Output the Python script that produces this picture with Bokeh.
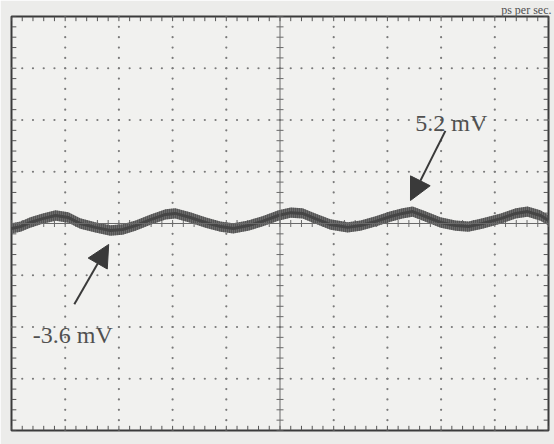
import numpy as np
from bokeh.plotting import figure
from bokeh.models import Span, Label, Arrow, NormalHead, ColumnDataSource, Title
from bokeh.embed import file_html
from bokeh.resources import INLINE

# --- data (time in divisions, voltage in mV; 20 mV/div) ---
t_div = [0.00, 0.17, 0.35, 0.58, 0.82, 1.06, 1.28, 1.56, 1.84, 2.07, 2.31, 2.59, 2.87,
         3.05, 3.33, 3.61, 3.89, 4.13, 4.41, 4.67, 4.97, 5.20, 5.42, 5.66, 5.94, 6.26,
         6.50, 6.78, 7.06, 7.28, 7.47, 7.71, 7.99, 8.27, 8.51, 8.77, 9.11, 9.39, 9.61,
         9.85, 10.00]
trace_mv = [-1.9, -1.2, 0.4, 1.9, 3.1, 2.3, 0.0, -1.5, -2.7, -2.3, -0.8, 1.5, 3.5,
            3.9, 2.3, 0.4, -1.2, -1.9, -0.8, 0.8, 3.1, 4.2, 3.9, 1.9, -0.4, -1.5,
            -0.8, 0.8, 2.7, 3.9, 4.6, 2.7, 0.4, -0.8, -1.2, 0.0, 1.9, 3.9, 4.6,
            3.1, 1.2]
noise_halfwidth_mv = 2.0

peak_label = "5.2 mV"
trough_label = "-3.6 mV"
top_caption = "ps per sec."
peak_text_pos = (8.19, 38.9)
trough_text_pos = (1.14, -43.2)
peak_arrow = (8.08, 35.8, 7.43, 8.9)
trough_arrow = (1.17, -31.2, 1.81, -8.1)

n_xdiv, n_ydiv = 10, 8
mv_per_div = 20
minor_per_div = 5

x_lo, x_hi = 0, n_xdiv
y_lo, y_hi = -n_ydiv / 2 * mv_per_div, n_ydiv / 2 * mv_per_div

font = "Liberation Serif"
p = figure(width=554, height=444, x_range=(x_lo, x_hi), y_range=(y_lo, y_hi),
           output_backend="svg", toolbar_location=None,
           x_axis_location=None, y_axis_location=None,
           min_border_left=11, min_border_right=6, min_border_top=15, min_border_bottom=14)
p.title = Title(text=top_caption, align="right", text_font=font, text_font_size="12px",
                text_font_style="normal", text_color="#505050", standoff=0, offset=-3)
p.grid.visible = False
p.background_fill_color = "#f1f1ef"
p.border_fill_color = "#ececea"
p.outline_line_color = "#3a3a3a"
p.outline_line_width = 2

grid_col = "#7a7a7a"
# graticule dots
x_minor = np.linspace(x_lo, x_hi, n_xdiv * minor_per_div + 1)
y_minor = np.linspace(y_lo, y_hi, n_ydiv * minor_per_div + 1)
gx_major = [v for v in range(1, n_xdiv) if v != n_xdiv // 2]
gy_major = [v * mv_per_div for v in range(-n_ydiv // 2 + 1, n_ydiv // 2) if v != 0]
dx, dy = [], []
for gx in gx_major:
    dx += [gx] * len(y_minor); dy += list(y_minor)
for gy in gy_major:
    dx += list(x_minor); dy += [gy] * len(x_minor)
p.scatter(dx, dy, size=2.2, color=grid_col, line_color=None)

# center cross
p.add_layout(Span(location=n_xdiv / 2, dimension="height", line_color="#6a6a6a", line_width=1))
p.add_layout(Span(location=0, dimension="width", line_color="#6a6a6a", line_width=1))
p.scatter([n_xdiv / 2] * len(y_minor), y_minor, marker="dash", size=7, line_color="#6a6a6a", line_width=1)
p.scatter(x_minor, [0] * len(x_minor), marker="dash", angle=np.pi / 2, size=7, line_color="#6a6a6a", line_width=1)

# edge ticks (inward)
tlx = 0.09
tly = 1.8
p.segment(x_minor, [y_hi] * len(x_minor), x_minor, [y_hi - tly] * len(x_minor), line_color="#555", line_width=1)
p.segment(x_minor, [y_lo] * len(x_minor), x_minor, [y_lo + tly] * len(x_minor), line_color="#555", line_width=1)
p.segment([x_lo] * len(y_minor), y_minor, [x_lo + tlx] * len(y_minor), y_minor, line_color="#555", line_width=1)
p.segment([x_hi] * len(y_minor), y_minor, [x_hi - tlx] * len(y_minor), y_minor, line_color="#555", line_width=1)

# trace: noise band + centre line
tr = np.array(trace_mv)
src = ColumnDataSource(dict(t=t_div, lo=tr - noise_halfwidth_mv, hi=tr + noise_halfwidth_mv, v=tr))
p.varea(x="t", y1="lo", y2="hi", source=src, fill_color="#656565", fill_alpha=0.95,
        hatch_pattern="vertical_line", hatch_color="#3a3a3a", hatch_scale=2, hatch_weight=1)
p.line(x="t", y="v", source=src, line_color="#454545", line_width=3)

# annotations
for txt, (lx, ly) in [(peak_label, peak_text_pos), (trough_label, trough_text_pos)]:
    p.add_layout(Label(x=lx, y=ly, text=txt, text_font=font, text_font_size="24px",
                       text_color="#505050", text_align="center", text_baseline="alphabetic"))
for (x0, y0, x1, y1) in [peak_arrow, trough_arrow]:
    p.add_layout(Arrow(end=NormalHead(size=22, fill_color="#3a3a3a", line_color="#3a3a3a"),
                       x_start=x0, y_start=y0, x_end=x1, y_end=y1,
                       line_color="#3a3a3a", line_width=2))

open("out.html", "w").write(file_html(p, INLINE))
